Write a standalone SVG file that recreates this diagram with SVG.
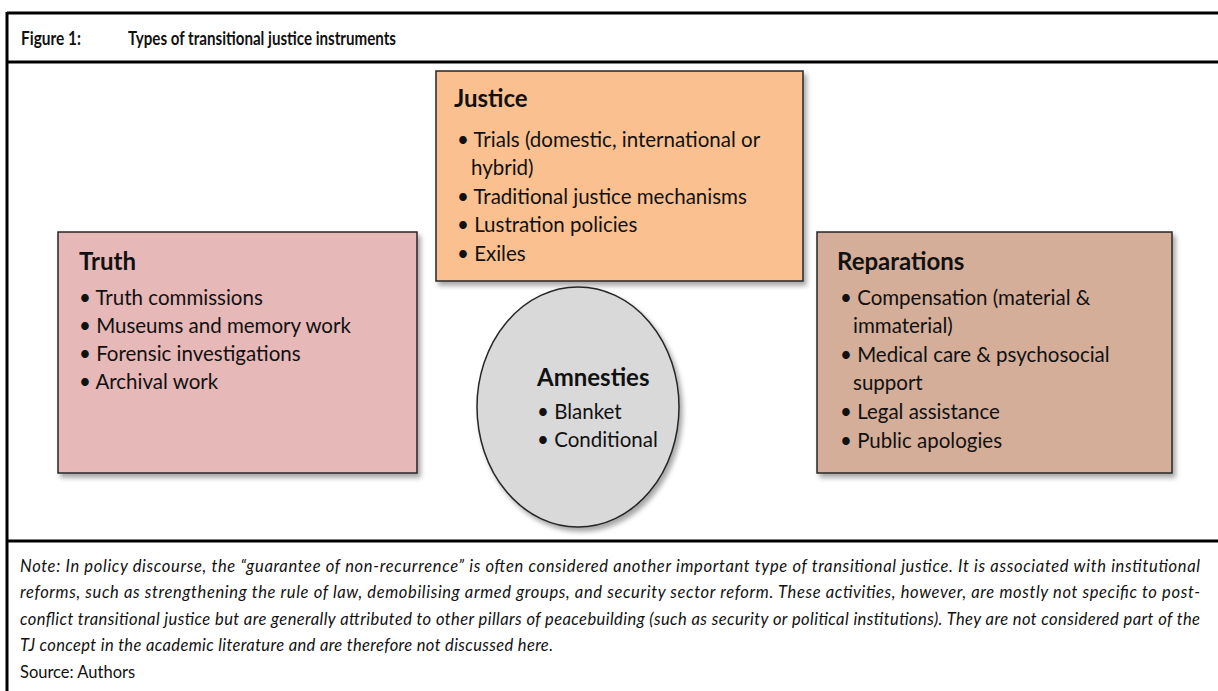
<svg xmlns="http://www.w3.org/2000/svg" width="1218" height="691" viewBox="0 0 1218 691">
<defs>
<filter id="sh" x="-10%" y="-10%" width="125%" height="125%">
<feDropShadow dx="3" dy="4" stdDeviation="2.5" flood-color="#000" flood-opacity="0.35"/>
</filter>
<style>
.frame{stroke:#000;stroke-width:3;fill:none}
.box{stroke:#262626;stroke-width:1.5}
.hd{font-family:Lato,"Liberation Sans",sans-serif;font-weight:bold;font-size:24px;fill:#111}
.it{font-family:Lato,"Liberation Sans",sans-serif;font-size:20.5px;fill:#111}
.ttl{font-family:Lato,"Liberation Sans",sans-serif;font-weight:bold;font-size:18px;fill:#111}
.note{font-family:Lato,"Liberation Sans",sans-serif;font-style:italic;font-size:16.5px;fill:#111}
.src{font-family:Lato,"Liberation Sans",sans-serif;font-size:16.5px;fill:#111}
</style>
</defs>
<rect width="1218" height="691" fill="#fff"/>
<g id="frame">
<line class="frame" x1="7" y1="13" x2="1218" y2="13"/>
<line class="frame" x1="7" y1="62" x2="1218" y2="62"/>
<line class="frame" x1="7" y1="541" x2="1218" y2="541"/>
<line class="frame" x1="7" y1="12" x2="7" y2="691"/>
<text class="ttl" x="21" y="45" textLength="60" lengthAdjust="spacingAndGlyphs">Figure 1:</text>
<text class="ttl" x="128" y="45" textLength="268" lengthAdjust="spacingAndGlyphs">Types of transitional justice instruments</text>
</g>
<g id="connectors"></g>
<g id="truth">
<rect class="box" x="58" y="232" width="359" height="241" fill="#E6B8B7" filter="url(#sh)"/>
<text class="hd" x="79" y="270">Truth</text>
<text class="it" x="79" y="305">• Truth commissions</text>
<text class="it" x="79" y="333">• Museums and memory work</text>
<text class="it" x="79" y="361">• Forensic investigations</text>
<text class="it" x="79" y="389">• Archival work</text>
</g>
<g id="justice">
<rect class="box" x="436" y="71" width="367" height="210" fill="#FAC090" filter="url(#sh)"/>
<text class="hd" x="454" y="107">Justice</text>
<text class="it" x="457" y="147">• Trials (domestic, international or</text>
<text class="it" x="471" y="175">hybrid)</text>
<text class="it" x="457" y="204">• Traditional justice mechanisms</text>
<text class="it" x="457" y="232">• Lustration policies</text>
<text class="it" x="457" y="261">• Exiles</text>
</g>
<g id="reparations">
<rect class="box" x="817" y="232" width="355" height="241" fill="#D4AE99" filter="url(#sh)"/>
<text class="hd" x="837" y="270">Reparations</text>
<text class="it" x="840" y="305">• Compensation (material &amp;</text>
<text class="it" x="853" y="333">immaterial)</text>
<text class="it" x="840" y="362">• Medical care &amp; psychosocial</text>
<text class="it" x="853" y="390">support</text>
<text class="it" x="840" y="419">• Legal assistance</text>
<text class="it" x="840" y="448">• Public apologies</text>
</g>
<g id="amnesties">
<ellipse class="box" cx="578" cy="407" rx="101" ry="120" fill="#D9D9D9" filter="url(#sh)"/>
<text class="hd" x="537" y="386">Amnesties</text>
<text class="it" x="537" y="419">• Blanket</text>
<text class="it" x="537" y="447">• Conditional</text>
</g>
<g id="note">
<text class="note" x="20" y="572" textLength="1180" lengthAdjust="spacing">Note: In policy discourse, the “guarantee of non-recurrence” is often considered another important type of transitional justice. It is associated with institutional</text>
<text class="note" x="20" y="598" textLength="1180" lengthAdjust="spacing">reforms, such as strengthening the rule of law, demobilising armed groups, and security sector reform. These activities, however, are mostly not specific to post-</text>
<text class="note" x="20" y="625" textLength="1180" lengthAdjust="spacing">conflict transitional justice but are generally attributed to other pillars of peacebuilding (such as security or political institutions). They are not considered part of the</text>
<text class="note" x="20" y="651" textLength="533" lengthAdjust="spacing">TJ concept in the academic literature and are therefore not discussed here.</text>
<text class="src" x="20" y="678">Source: Authors</text>
</g>
</svg>
